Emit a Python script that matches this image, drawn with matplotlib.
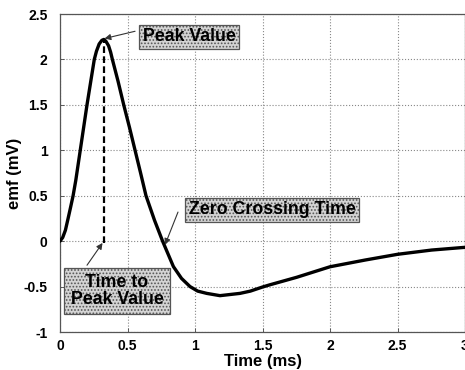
import matplotlib
matplotlib.use("Agg")
import matplotlib.pyplot as plt

plt.rcParams['font.family'] = ['Liberation Sans', 'DejaVu Sans']
plt.rcParams['font.weight'] = 'bold'
plt.rcParams['hatch.linewidth'] = 0.8

# ---- data ----
time_ms = [0, 0.02, 0.04, 0.06, 0.078, 0.097, 0.117, 0.15, 0.175, 0.20, 0.228, 0.254, 0.27,
           0.29, 0.31, 0.325, 0.34, 0.36, 0.375, 0.388, 0.43, 0.472, 0.515, 0.556,
           0.597, 0.637, 0.70, 0.76, 0.84, 0.90, 0.963, 1.02, 1.087, 1.185, 1.333,
           1.41, 1.50, 1.556, 1.753, 2.00, 2.26, 2.50, 2.753, 3.00]
emf_mv = [0, 0.04, 0.12, 0.25, 0.37, 0.5, 0.67, 1.0, 1.25, 1.5, 1.76, 2.0, 2.09,
          2.17, 2.21, 2.22, 2.2, 2.15, 2.08, 2.0, 1.76, 1.5, 1.25, 1.0,
          0.75, 0.5, 0.23, 0, -0.28, -0.41, -0.5, -0.55, -0.575, -0.60, -0.575,
          -0.55, -0.505, -0.48, -0.398, -0.282, -0.208, -0.145, -0.098, -0.068]

peak_time = 0.325
peak_value = 2.22

x_ticks = [0, 0.5, 1, 1.5, 2, 2.5, 3]
x_tick_labels = ['0', '0.5', '1', '1.5', '2', '2.5', '3']
y_ticks = [-1, -0.5, 0, 0.5, 1, 1.5, 2, 2.5]
y_tick_labels = ['-1', '-0.5', '0', '0.5', '1', '1.5', '2', '2.5']

x_label = 'Time (ms)'
y_label = 'emf (mV)'
label_peak = 'Peak Value'
label_zero = 'Zero Crossing Time'
label_ttp = 'Time to\nPeak Value'

# ---- figure ----
fig = plt.figure(figsize=(4.65, 3.70), dpi=100)
ax = fig.add_axes([60/465, 38/370, 405/465, 318/370])

ax.plot(time_ms, emf_mv, color='black', lw=2.4, solid_capstyle='round',
        solid_joinstyle='round', zorder=3)
ax.plot([peak_time, peak_time], [-0.02, peak_value], color='black', lw=1.6,
        linestyle=(0, (3, 1.5)), zorder=3)

ax.set_xlim(0, 3)
ax.set_ylim(-1, 2.5)
ax.set_xticks(x_ticks)
ax.set_xticklabels(x_tick_labels)
ax.set_yticks(y_ticks)
ax.set_yticklabels(y_tick_labels)
ax.tick_params(direction='in', length=3, width=0.6, labelsize=10, colors='#444',
               labelcolor='black')
ax.tick_params(axis='y', pad=9)
ax.tick_params(axis='x', pad=5)
ax.grid(True, color='#888888', linestyle=':', linewidth=0.8)
for s in ax.spines.values():
    s.set_color('#555555')
    s.set_linewidth(0.9)

ax.set_xlabel(x_label, fontsize=12, fontweight='bold', labelpad=1)
ax.set_ylabel(y_label, fontsize=12, fontweight='bold')
ax.yaxis.set_label_coords(-0.095, 0.5)

box = dict(boxstyle='square,pad=0.2', fc='#d4d4d4', ec='#555555', hatch='.....', lw=0.9)
ap = dict(arrowstyle='-|>', color='#333333', lw=0.8, mutation_scale=9, shrinkA=0, shrinkB=0)

ax.text(0.956, 2.25, label_peak, fontsize=12.8, fontweight='bold', ha='center',
        va='center', bbox=box, zorder=5)
ax.annotate('', xy=(0.33, 2.23), xytext=(0.556, 2.31), arrowprops=ap, zorder=4)

ax.text(1.57, 0.345, label_zero, fontsize=12.8, fontweight='bold', ha='center',
        va='center', bbox=box, zorder=5)
ax.annotate('', xy=(0.778, -0.04), xytext=(0.874, 0.32), arrowprops=ap, zorder=4)

ax.text(0.422, -0.55, label_ttp, fontsize=12.8, fontweight='bold', ha='center',
        va='center', linespacing=1.0, bbox=dict(box, boxstyle='square,pad=0.35'), zorder=5)
ax.annotate('', xy=(0.315, -0.02), xytext=(0.2, -0.265), arrowprops=ap, zorder=4)

fig.savefig('out.png', dpi=100)
